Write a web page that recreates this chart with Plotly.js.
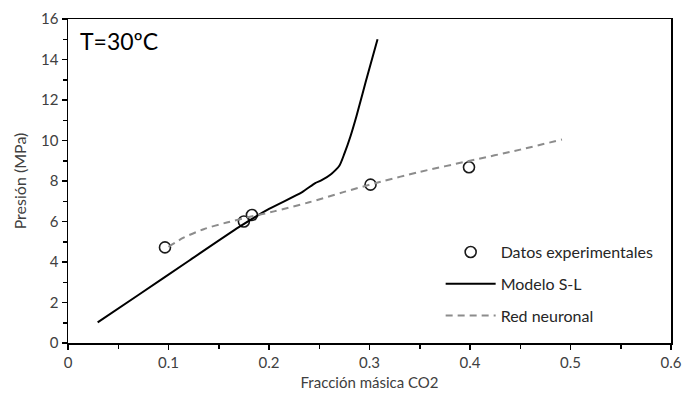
<!DOCTYPE html>
<html>
<head>
<meta charset="utf-8">
<script src="https://cdn.plot.ly/plotly-3.0.1.min.js"></script>
<style>html,body{margin:0;padding:0;background:#fff;}#chart{width:683px;height:401px;}</style>
</head>
<body>
<div id="chart"></div>
<script>
// Experimental data
const expX = [0.0965, 0.175, 0.183, 0.301, 0.399];
const expY = [4.72, 6.0, 6.32, 7.82, 8.68];

// Modelo S-L
const slX = [0.0295, 0.07, 0.12, 0.17, 0.2, 0.233, 0.246, 0.252, 0.262, 0.270, 0.275, 0.281, 0.287, 0.293, 0.299, 0.308];
const slY = [1.02, 2.37, 4.05, 5.72, 6.62, 7.45, 7.9, 8.03, 8.35, 8.75, 9.35, 10.2, 11.2, 12.3, 13.4, 15.0];

// Red neuronal
const rnX = [0.1, 0.115, 0.135, 0.158, 0.18, 0.205, 0.24, 0.274, 0.31, 0.35, 0.4, 0.45, 0.4915];
const rnY = [4.75, 5.2, 5.62, 5.95, 6.22, 6.5, 6.95, 7.45, 7.95, 8.45, 9.0, 9.55, 10.05];

const xTicks = [0, 0.1, 0.2, 0.3, 0.4, 0.5, 0.6];
const xTickText = ['0', '0.1', '0.2', '0.3', '0.4', '0.5', '0.6'];
const yTicks = [0, 2, 4, 6, 8, 10, 12, 14, 16];

const FONT = 'Lato, "Open Sans", sans-serif';

const traces = [
  {x: expX, y: expY, mode: 'markers', type: 'scatter', name: 'Datos experimentales', legendgroup: 'a',
   marker: {symbol: 'circle-open', size: 11, color: '#1a1a1a', line: {width: 1.6, color: '#1a1a1a'}}},
  {x: slX, y: slY, mode: 'lines', type: 'scatter', name: 'Modelo S-L', legendgroup: 'b',
   line: {color: '#000', width: 2, shape: 'spline', smoothing: 0.6}},
  {x: rnX, y: rnY, mode: 'lines', type: 'scatter', name: 'Red neuronal', legendgroup: 'c',
   line: {color: '#8c8c8c', width: 2, dash: '7px,5px', shape: 'spline', smoothing: 0.8}}
];

const layout = {
  width: 683, height: 401,
  margin: {l: 68, r: 12, t: 19, b: 58},
  paper_bgcolor: '#fff', plot_bgcolor: '#fff',
  font: {family: FONT, size: 15, color: '#404040'},
  showlegend: true,
  legend: {x: 0.618, y: 0.333, xanchor: 'left', yanchor: 'top', bgcolor: 'rgba(0,0,0,0)',
           font: {family: FONT, size: 16, color: '#262626'}, tracegroupgap: 8, traceorder: 'grouped',
           itemwidth: 50},
  xaxis: {range: [0, 0.6], tickvals: xTicks, ticktext: xTickText, ticks: 'outside', ticklen: 5, tickwidth: 1.5,
          tickcolor: '#000', showline: true, linecolor: '#000', linewidth: 1.5, mirror: true, showgrid: false, zeroline: false,
          minor: {tickvals: [0.05, 0.15, 0.25, 0.35, 0.45, 0.55], ticks: 'outside', ticklen: 4, tickwidth: 1.5, tickcolor: '#000'},
          title: {text: 'Fracción másica CO2', font: {family: FONT, size: 15, color: '#404040'}, standoff: 8},
          tickfont: {family: FONT, size: 15, color: '#404040'}},
  yaxis: {range: [0, 16], tickvals: yTicks, ticks: 'outside', ticklen: 5, tickwidth: 1.5,
          tickcolor: '#000', showline: true, linecolor: '#000', linewidth: 1.5, mirror: true, showgrid: false, zeroline: false,
          minor: {dtick: 1, ticks: 'outside', ticklen: 4, tickwidth: 1.5, tickcolor: '#000'},
          title: {text: 'Presión (MPa)', font: {family: FONT, size: 16, color: '#404040'}, standoff: 10},
          tickfont: {family: FONT, size: 15, color: '#404040'}},
  annotations: [
    {text: 'T=30ºC', xref: 'paper', yref: 'paper', x: 0.016, y: 0.98, xanchor: 'left', yanchor: 'top',
     showarrow: false, font: {family: FONT, size: 23, color: '#000'}}
  ]
};

Plotly.newPlot('chart', traces, layout, {displayModeBar: false, staticPlot: true});
</script>
</body>
</html>
